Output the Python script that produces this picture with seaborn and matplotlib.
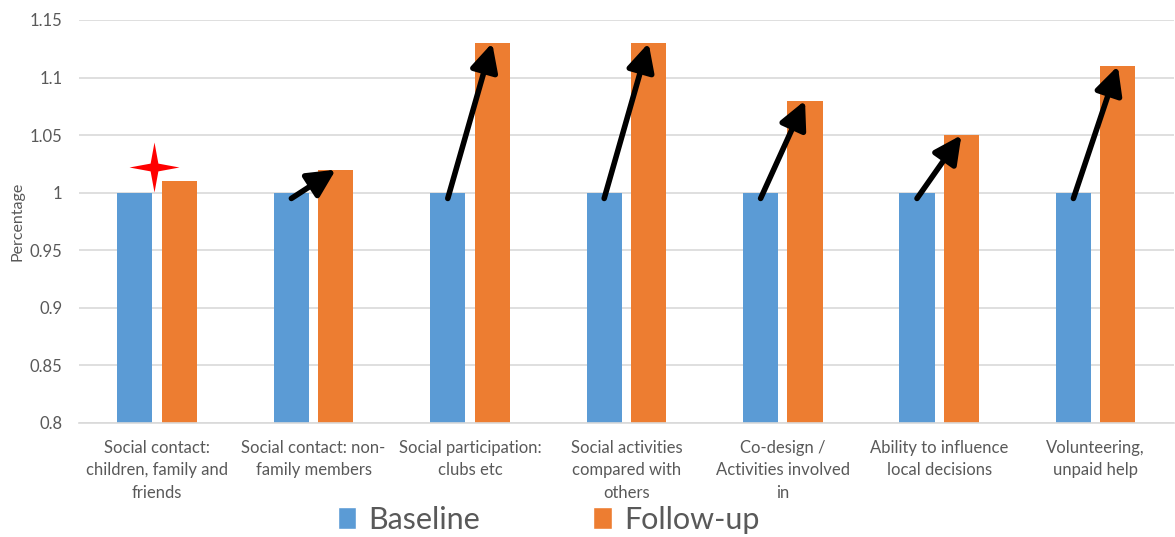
import numpy as np
import pandas as pd
import matplotlib
matplotlib.use("Agg")
import matplotlib.pyplot as plt
from matplotlib.path import Path
from matplotlib.patches import Patch
import seaborn as sns

categories = [
    "Social contact:\nchildren, family and\nfriends",
    "Social contact: non-\nfamily members",
    "Social participation:\nclubs etc",
    "Social activities\ncompared with\nothers",
    "Co-design /\nActivities involved\nin",
    "Ability to influence\nlocal decisions",
    "Volunteering,\nunpaid help",
]
baseline = [1.0, 1.0, 1.0, 1.0, 1.0, 1.0, 1.0]
follow_up = [1.01, 1.02, 1.13, 1.13, 1.08, 1.05, 1.11]
series = ["Baseline", "Follow-up"]
y_ticks = [0.8, 0.85, 0.9, 0.95, 1.0, 1.05, 1.1, 1.15]

BLUE = "#5B9BD5"
ORANGE = "#ED7D31"
TEXT = "#595959"
GRID = "#D9D9D9"

df = pd.DataFrame({
    "category": categories * 2,
    "series": [series[0]] * len(categories) + [series[1]] * len(categories),
    "value": baseline + follow_up,
})

sns.set_theme(style="white")
plt.rcParams["font.family"] = ["Lato", "DejaVu Sans"]

fig = plt.figure(figsize=(11.75, 5.37), dpi=100)
ax = fig.add_axes([0.0672, 0.2123, 0.9318, 0.7505])

sns.barplot(
    data=df, x="category", y="value", hue="series",
    palette=[BLUE, ORANGE], saturation=1, width=0.568, gap=0.211,
    linewidth=0, ax=ax, legend=False, errorbar=None, zorder=2,
)

ax.set_ylim(0.8, 1.15)
ax.set_xlim(-0.5, len(categories) - 0.5)
ax.set_yticks(y_ticks)
ax.set_yticklabels([f"{v:g}" for v in y_ticks])
ax.yaxis.grid(True, color=GRID, lw=1.2, zorder=0)
ax.set_axisbelow(True)
for side in ["left", "right", "top"]:
    ax.spines[side].set_visible(False)
ax.spines["bottom"].set_color(GRID)
ax.spines["bottom"].set_linewidth(1.2)
ax.tick_params(axis="both", length=0, colors=TEXT, labelsize=12)
ax.tick_params(axis="x", pad=12)
ax.tick_params(axis="y", pad=12)
for lbl in ax.get_xticklabels():
    lbl.set_linespacing(1.5)
ax.set_xlabel("")
ax.set_ylabel("Percentage", color=TEXT, fontsize=11.5)
ax.yaxis.set_label_coords(-0.050, 0.5)

# Arrows from each baseline bar to its follow-up bar
base_bars = ax.containers[0].patches
fol_bars = ax.containers[1].patches
for i in range(1, len(categories)):
    b = base_bars[i]
    f = fol_bars[i]
    x0 = b.get_x() + b.get_width() / 2
    x1 = f.get_x() + f.get_width() / 2
    ax.annotate(
        "", xy=(x1, follow_up[i]), xytext=(x0, baseline[i] - 0.005),
        arrowprops=dict(arrowstyle="-|>,head_length=1.2,head_width=0.6",
                        mutation_scale=14, lw=4, color="black",
                        shrinkA=0, shrinkB=0),
        zorder=5,
    )

# Red four-pointed star over the first group
star = Path.unit_regular_star(4, 0.22)
ax.plot([0 - 0.02], [1.022], marker=star, markersize=36, color="red",
        markeredgewidth=0, zorder=6, clip_on=False)

handles = [Patch(facecolor=BLUE), Patch(facecolor=ORANGE)]
fig.legend(handles, series, loc="lower center", bbox_to_anchor=(0.467, -0.045),
           ncol=2, frameon=False, fontsize=22, labelcolor=TEXT,
           handlelength=0.6, handleheight=0.75, handletextpad=0.4,
           columnspacing=3.7)

fig.savefig("out.png", dpi=100)
